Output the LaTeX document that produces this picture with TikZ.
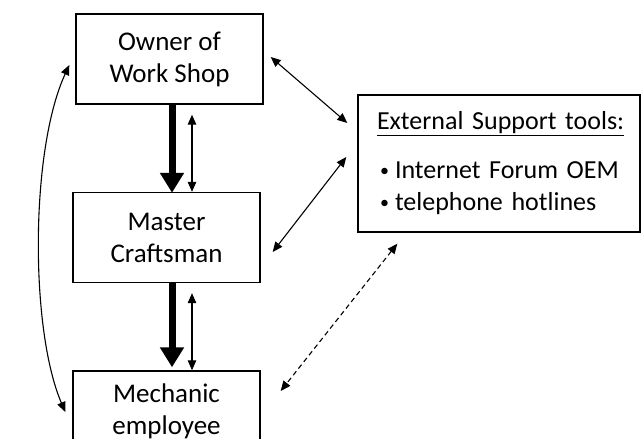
\documentclass[tikz,border=0pt]{standalone}
\usepackage{fontspec}
\setmainfont{Carlito}
\usetikzlibrary{arrows.meta}
\newcommand\smallbullet{\makebox[18pt][l]{\hspace*{3pt}\raisebox{2.5pt}{\fontsize{18}{18}\selectfont\textbullet}}}
\begin{document}
\begin{tikzpicture}[x=1pt,y=-1pt,
  box/.style={draw,line width=1.4pt,minimum width=187pt,minimum height=90pt,
    align=center,inner sep=0pt,font=\fontsize{27}{32}\selectfont},
  ext/.style={draw,line width=1.4pt,minimum width=282pt,minimum height=137pt,
    text width=244pt,inner xsep=19pt,inner ysep=0pt,align=left,
    font=\fontsize{26}{32}\selectfont},
  order/.style={line width=7pt,-{Triangle[width=23pt,length=20pt]}},
  talk/.style={line width=1.1pt,{Triangle[width=8.5pt,length=10pt]}-{Triangle[width=8.5pt,length=10pt]}},
  dashtalk/.style={talk,dash pattern=on 5pt off 3.5pt}]
\useasboundingbox (0,0) rectangle (641,439);
\clip (0,0) rectangle (641,439);

% the chain of command
\node[box] (owner) at (169.5,59) {Owner of\\Work Shop};
\node[box] (master) at (166.5,237.5) {Master\\Craftsman};
\node[box,minimum height=80pt] (mech) at (166.5,411) {Mechanic\\employee};

% outside help
\node[ext] (ext) at (499,163.5) {\underline{External Support tools:}\\[17pt]
  \smallbullet Internet Forum OEM\\
  \smallbullet telephone hotlines};

% instructions downwards, questions both ways
\draw[order] ([xshift=2.5pt]owner.south) -- ([xshift=5.5pt,yshift=-1pt]master.north);
\draw[talk] ([xshift=22.5pt,yshift=-10pt]owner.south) -- ([xshift=25.5pt]master.north);
\draw[order] ([xshift=5.5pt]master.south) -- ([xshift=5.5pt,yshift=3pt]mech.north);
\draw[talk] ([xshift=25.5pt,yshift=-10pt]master.south) -- ([xshift=25.5pt]mech.north);

% contact with the external support
\draw[talk] ([xshift=7pt,yshift=2pt]owner.east) -- ([xshift=-10pt,yshift=40.5pt]ext.west);
\draw[talk] ([xshift=12pt,yshift=-14.5pt]master.east) -- ([xshift=-11pt,yshift=6.5pt]ext.west);
\draw[dashtalk] ([xshift=40pt,yshift=-11pt]ext.south west) -- ([xshift=20pt,yshift=20pt]mech.east);

% owner and mechanic talk directly
\draw[talk] ([xshift=-6pt,yshift=-6pt]owner.west) .. controls (30,150) and (30,330) .. ([xshift=-7pt,yshift=-1pt]mech.west);
\end{tikzpicture}
\end{document}
